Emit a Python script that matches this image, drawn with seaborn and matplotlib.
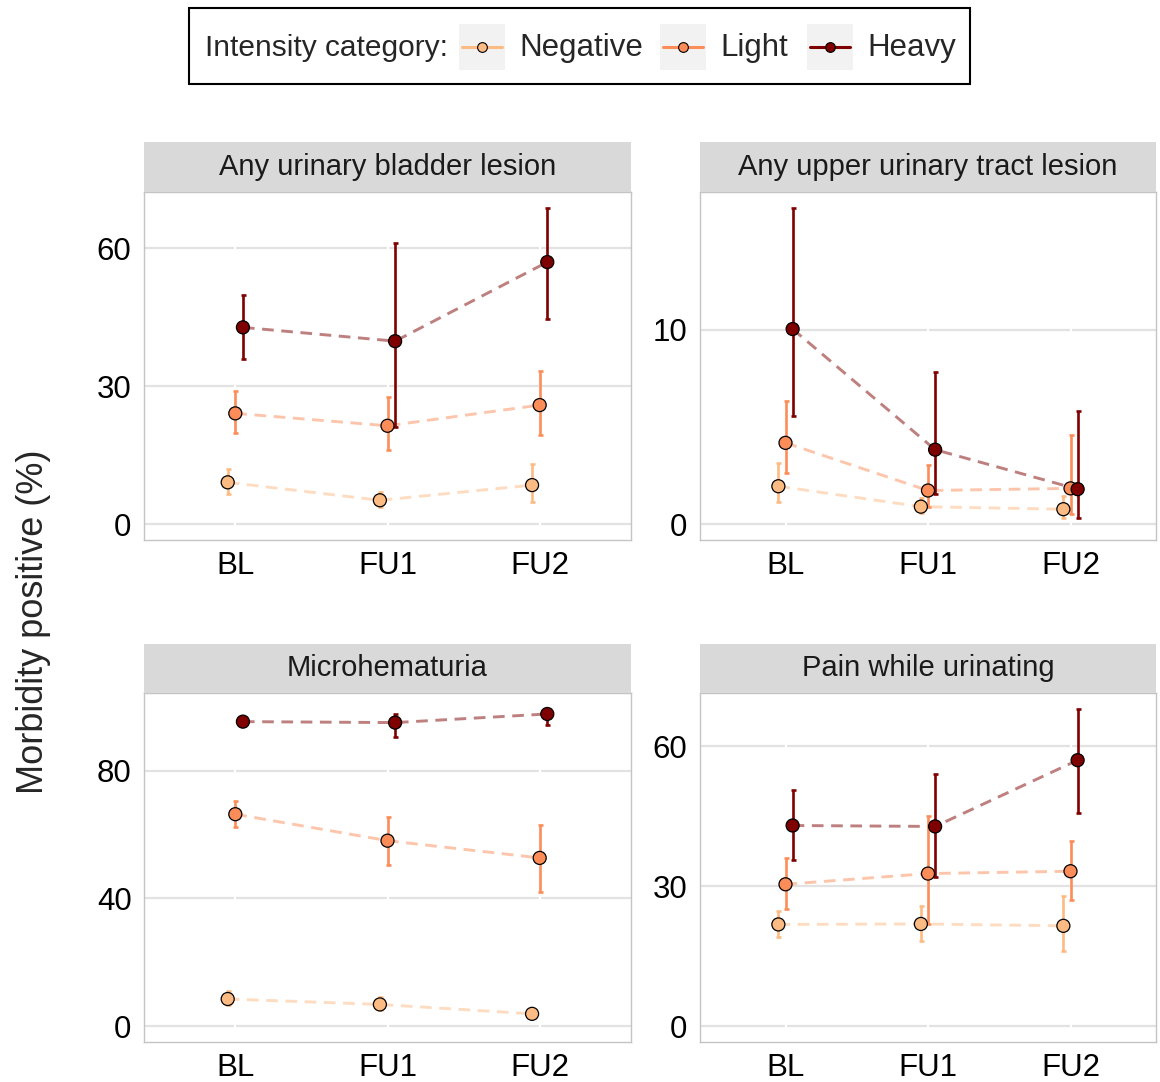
import numpy as np
import pandas as pd
import matplotlib
matplotlib.use("Agg")
import matplotlib.pyplot as plt
from matplotlib.patches import Rectangle
import seaborn as sns

# data (rows: Negative, Light, Heavy; columns: BL, FU1, FU2)
times = ["BL", "FU1", "FU2"]
categories = ["Negative", "Light", "Heavy"]
panel_titles = ["Any urinary bladder lesion", "Any upper urinary tract lesion",
                "Microhematuria", "Pain while urinating"]

bladder_pct = [[9.1, 5.2, 8.5], [24.1, 21.4, 25.9], [42.8, 39.8, 57.0]]
bladder_lo = [[6.5, 3.8, 4.9], [19.8, 16.2, 19.5], [36.0, 21.1, 44.7]]
bladder_hi = [[11.9, 6.9, 13.1], [28.9, 27.6, 33.3], [49.9, 61.2, 68.8]]

upper_pct = [[1.95, 0.90, 0.77], [4.18, 1.73, 1.84], [10.03, 3.83, 1.80]]
upper_lo = [[1.16, 0.55, 0.31], [2.64, 0.87, 0.53], [5.58, 1.53, 0.31]]
upper_hi = [[3.16, 1.36, 1.46], [6.31, 3.03, 4.59], [16.26, 7.82, 5.82]]

micro_pct = [[8.5, 6.8, 3.85], [66.4, 58.1, 52.7], [95.4, 95.1, 97.8]]
micro_lo = [[6.6, 5.0, 2.4], [62.4, 50.5, 42.1], [94.0, 90.5, 94.4]]
micro_hi = [[11.0, 9.0, 5.5], [70.4, 65.5, 63.1], [96.6, 97.8, 99.4]]

pain_pct = [[21.8, 21.9, 21.5], [30.4, 32.7, 33.2], [43.0, 42.8, 57.0]]
pain_lo = [[19.1, 18.3, 16.1], [25.0, 21.8, 27.1], [35.7, 32.0, 45.7]]
pain_hi = [[24.6, 25.7, 27.8], [36.1, 45.1, 39.6], [50.7, 54.1, 68.0]]

y_ticks = [[0, 30, 60], [0, 10], [0, 40, 80], [0, 30, 60]]

colors = {"Negative": "#FDBB84", "Light": "#FC8D59", "Heavy": "#7F0000"}
dodge = {"Negative": -0.05, "Light": 0.0, "Heavy": 0.05}

sns.set_style("white")
plt.rcParams["font.family"] = ["Liberation Sans", "DejaVu Sans"]

W, H = 1160, 1082
fig = plt.figure(figsize=(W / 100, H / 100), dpi=100)


def box(x0, y0, x1, y1):
    return [x0 / W, 1 - y1 / H, (x1 - x0) / W, (y1 - y0) / H]


def make_frame(pct, lo, hi):
    rows = []
    for ci, cat in enumerate(categories):
        for ti, t in enumerate(times):
            rows.append({"time": t, "category": cat, "xpos": ti + dodge[cat],
                         "pct": pct[ci][ti], "lo": lo[ci][ti], "hi": hi[ci][ti]})
    return pd.DataFrame(rows)


frames = [make_frame(bladder_pct, bladder_lo, bladder_hi),
          make_frame(upper_pct, upper_lo, upper_hi),
          make_frame(micro_pct, micro_lo, micro_hi),
          make_frame(pain_pct, pain_lo, pain_hi)]

# panel boxes in pixels (x0, y0, x1, y1) and strip boxes
panel_px = [(144, 192, 631, 540), (700, 192, 1156, 540),
            (144, 693, 631, 1042), (700, 693, 1156, 1042)]
strip_px = [(144, 142, 631, 192), (700, 142, 1156, 192),
            (144, 644, 631, 693), (700, 644, 1156, 693)]

for i, df in enumerate(frames):
    ax = fig.add_axes(box(*panel_px[i]))
    ax.set_axisbelow(True)

    sns.lineplot(data=df, x="xpos", y="pct", hue="category", hue_order=categories,
                 palette=colors, estimator=None, sort=False, legend=False,
                 linestyle=(0, (4, 2.6)), linewidth=2.1, alpha=0.5, ax=ax)

    for cat in categories:
        sub = df[df["category"] == cat]
        ax.errorbar(sub["xpos"], sub["pct"],
                    yerr=[sub["pct"] - sub["lo"], sub["hi"] - sub["pct"]],
                    fmt="none", ecolor=colors[cat], elinewidth=1.9,
                    capsize=1.8, capthick=1.9, zorder=3)

    sns.scatterplot(data=df, x="xpos", y="pct", hue="category", hue_order=categories,
                    palette=colors, s=88, edgecolor="black", linewidth=0.9,
                    legend=False, zorder=4, ax=ax)

    top = df["hi"].max()
    ax.set_ylim(-0.05 * top, 1.05 * top)
    ax.set_xlim(-0.6, 2.6)
    ax.set_xticks(range(len(times)))
    ax.set_xticklabels(times)
    ax.set_yticks(y_ticks[i])
    ax.set_xlabel("")
    ax.set_ylabel("")
    ax.tick_params(axis="both", length=0, labelsize=22.5, colors="black")
    ax.tick_params(axis="y", pad=9)
    ax.tick_params(axis="x", pad=8)
    ax.grid(axis="y", color="#E2E2E2", linewidth=1.6)
    for t in range(len(times)):
        ax.axvline(t, color="white", linewidth=1.6, zorder=1)
    for sp in ax.spines.values():
        sp.set_color("#C4C4C4")
        sp.set_linewidth(1.0)

    sax = fig.add_axes(box(*strip_px[i]))
    sax.set_facecolor("#D9D9D9")
    sax.set_xticks([])
    sax.set_yticks([])
    for sp in sax.spines.values():
        sp.set_visible(False)
    sax.text(0.5, 0.5, panel_titles[i], ha="center", va="center",
             fontsize=21, color="#1A1A1A", transform=sax.transAxes)

fig.text(34 / W, 1 - 622 / H, "Morbidity positive (%)", rotation=90,
         ha="center", va="center", fontsize=26)

# legend drawn in pixel space
lax = fig.add_axes([0, 0, 1, 1], zorder=-1)
lax.set_xlim(0, W)
lax.set_ylim(H, 0)
lax.axis("off")
lax.add_patch(Rectangle((189, 8), 781, 76, fill=False, edgecolor="black", linewidth=1.5))
lax.text(205, 48, "Intensity category:", fontsize=21.5, va="center", ha="left")
key_x = [459, 660, 807]
for kx, cat in zip(key_x, categories):
    lax.add_patch(Rectangle((kx, 24), 46, 46, facecolor="#F2F2F2", edgecolor="none"))
    lax.plot([kx + 3, kx + 43], [47, 47], color=colors[cat], linewidth=2.2)
    lax.plot([kx + 23], [47], marker="o", markersize=7, color=colors[cat],
             markeredgecolor="black", markeredgewidth=0.8)
    lax.text(kx + 60, 48, cat, fontsize=22.5, va="center", ha="left")

fig.savefig("out.png", dpi=100)
